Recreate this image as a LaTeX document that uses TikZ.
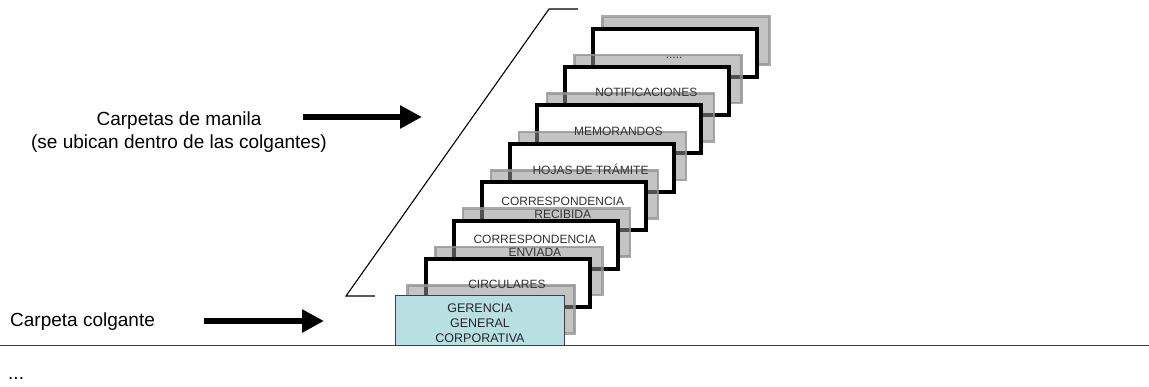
\documentclass[tikz,border=0pt]{standalone}
\usepackage{fontspec}
\setmainfont{Liberation Sans}
\usetikzlibrary{arrows.meta}
\definecolor{tealbox}{RGB}{184,223,226}
\definecolor{foldergray}{RGB}{147,147,147}
\tikzset{
  bigarrow/.style={line width=6.5pt, -{Triangle[length=22pt,width=22pt]}},
  manila/.style={draw=black, line width=4pt, fill=white},
  shadow/.style={draw=foldergray, draw opacity=0.8, line width=2.5pt, fill=foldergray, fill opacity=0.55},
  tablabel/.style={font=\fontsize{12}{13}\selectfont, text=black!80, align=center},
  biglabel/.style={font=\fontsize{19}{23.5}\selectfont, align=center, inner sep=0pt},
  hanging/.style={draw=black!75, line width=0.8pt, fill=tealbox, minimum width=169pt, minimum height=49.5pt,
    font=\fontsize{12.5}{15}\selectfont, text=black!85, align=center},
}
\begin{document}
\begin{tikzpicture}[x=1pt,y=-1pt]
  \useasboundingbox (0,0) rectangle (1149,387);
  \node[biglabel] (manila) at (179,132) {Carpetas de manila\\(se ubican dentro de las colgantes)};
  \node[biglabel, anchor=west] (colgante) at (10,322) {Carpeta colgante};
  \node[biglabel, anchor=base west] (more) at (8,380) {...};
  \coordinate (manilafrom) at (303,117);
  \coordinate (manilato) at (422,117);
  \coordinate (colgantefrom) at (204,321);
  \coordinate (colganteto) at (324,321);
  \draw[bigarrow] (manilafrom) -- (manilato);
  \draw[bigarrow] (colgantefrom) -- (colganteto);
  \draw[line width=1.1pt] (375,296) -- (346,296) -- (549,9) -- (578,9);
  \draw[shadow] ({407.5+27.85*7},{285.5-38.4*7}) rectangle ++(167,48);
  \foreach \i/\txt in {6/{\vphantom{A}.....},5/NOTIFICACIONES,4/MEMORANDOS,3/HOJAS DE TRÁMITE,
      2/{CORRESPONDENCIA\\RECIBIDA},1/{CORRESPONDENCIA\\ENVIADA},0/CIRCULARES}{
    \draw[manila] ({426+27.85*\i},{259-38.4*\i}) rectangle ++(164,48);
    \draw[shadow] ({407.5+27.85*\i},{285.5-38.4*\i}) rectangle ++(167,48);
    \node[tablabel] (tab\i) at ({507+27.85*\i},{284.5-38.4*\i}) {\txt};
  }
  \node[hanging] (gerencia) at (480,320.5) {\rule{0pt}{14pt}GERENCIA\\GENERAL\\CORPORATIVA};
  \draw[black!75, line width=1.5pt] (0,345.5) -- (1149,345.5);
\end{tikzpicture}
\end{document}
